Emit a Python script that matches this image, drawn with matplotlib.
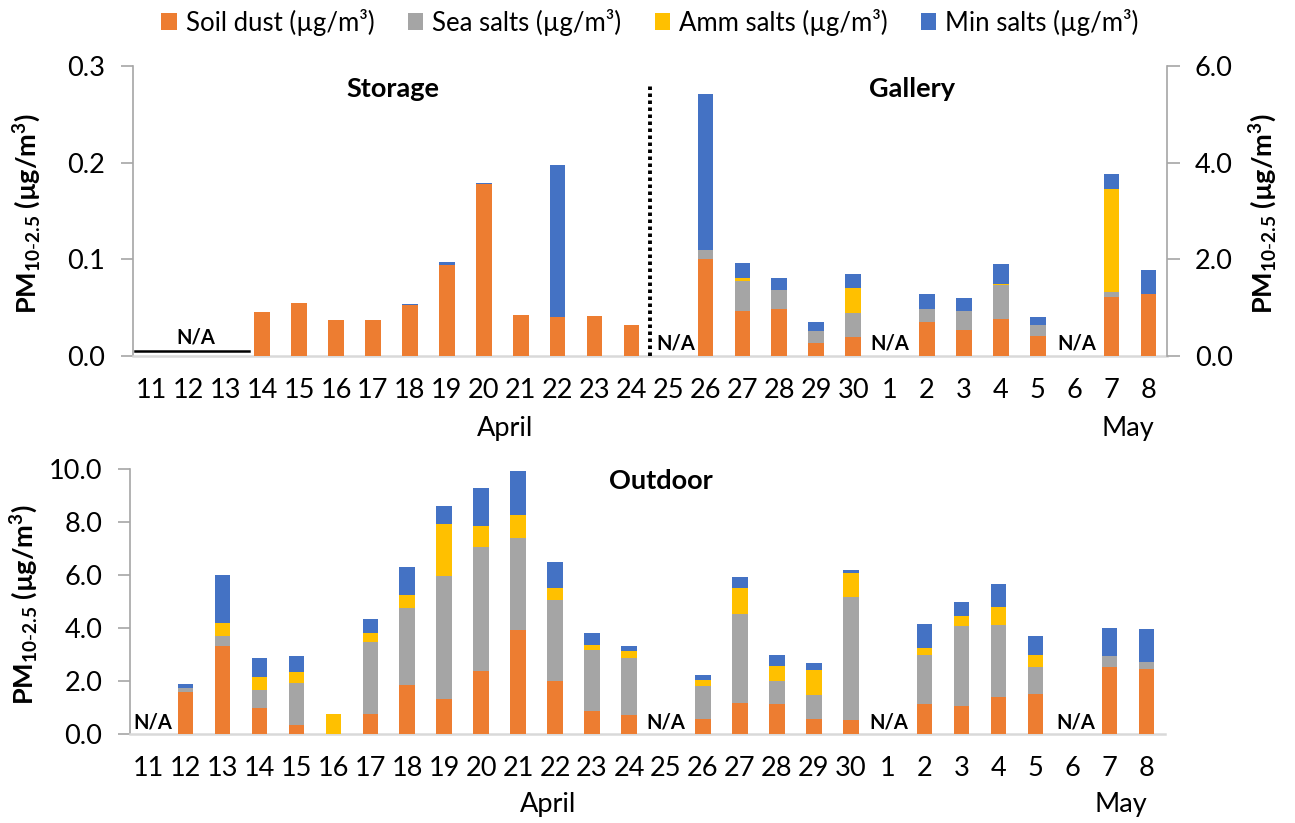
import numpy as np
import matplotlib
matplotlib.use("Agg")
import matplotlib.pyplot as plt
from matplotlib.patches import Patch

plt.rcParams['font.family'] = ['Lato', 'DejaVu Sans']
plt.rcParams['mathtext.fontset'] = 'custom'
plt.rcParams['mathtext.rm'] = 'Lato'
plt.rcParams['mathtext.bf'] = 'Lato:bold'

nan = np.nan

# Sampling days (11 April .. 8 May)
days = ['11', '12', '13', '14', '15', '16', '17', '18', '19', '20', '21', '22', '23', '24',
        '25', '26', '27', '28', '29', '30', '1', '2', '3', '4', '5', '6', '7', '8']

components = ['Soil dust (µg/m³)', 'Sea salts (µg/m³)', 'Amm salts (µg/m³)', 'Min salts (µg/m³)']
colors = ['#ED7D31', '#A5A5A5', '#FFC000', '#4472C4']

# Storage room, 11-24 April (left axis)
storage_soil = [nan, nan, nan, 0.045, 0.055, 0.037, 0.037, 0.053, 0.094, 0.178, 0.0425, 0.040, 0.041, 0.0325]
storage_sea = [nan, nan, nan, 0, 0, 0, 0, 0, 0, 0, 0, 0, 0, 0]
storage_amm = [nan, nan, nan, 0, 0, 0, 0, 0, 0, 0, 0, 0, 0, 0]
storage_min = [nan, nan, nan, 0, 0, 0, 0, 0.001, 0.003, 0.001, 0, 0.158, 0, 0]

# Gallery, 25 April - 8 May (right axis)
gallery_soil = [nan, 2.01, 0.94, 0.97, 0.26, 0.40, nan, 0.70, 0.53, 0.76, 0.41, nan, 1.23, 1.28]
gallery_sea = [nan, 0.19, 0.61, 0.40, 0.26, 0.49, nan, 0.28, 0.41, 0.71, 0.24, nan, 0.10, 0.01]
gallery_amm = [nan, 0.0, 0.07, 0.0, 0.0, 0.51, nan, 0.0, 0.0, 0.01, 0.0, nan, 2.13, 0.0]
gallery_min = [nan, 3.23, 0.30, 0.25, 0.18, 0.30, nan, 0.30, 0.26, 0.42, 0.16, nan, 0.30, 0.49]

# Outdoor, 11 April - 8 May
outdoor_soil = [nan, 1.60, 3.33, 0.98, 0.33, 0.0, 0.74, 1.85, 1.33, 2.39, 3.92, 2.00, 0.88, 0.72,
                nan, 0.57, 1.17, 1.14, 0.58, 0.54, nan, 1.14, 1.07, 1.41, 1.52, nan, 2.54, 2.47]
outdoor_sea = [nan, 0.15, 0.37, 0.67, 1.61, 0.0, 2.73, 2.89, 4.64, 4.68, 3.46, 3.07, 2.28, 2.14,
               nan, 1.24, 3.35, 0.87, 0.90, 4.64, nan, 1.83, 3.02, 2.72, 1.02, nan, 0.39, 0.23]
outdoor_amm = [nan, 0.0, 0.50, 0.49, 0.40, 0.77, 0.33, 0.51, 1.94, 0.78, 0.88, 0.43, 0.19, 0.26,
               nan, 0.24, 0.98, 0.57, 0.95, 0.91, nan, 0.29, 0.36, 0.65, 0.45, nan, 0.0, 0.0]
outdoor_min = [nan, 0.14, 1.80, 0.73, 0.59, 0.0, 0.54, 1.05, 0.69, 1.42, 1.68, 0.99, 0.46, 0.20,
               nan, 0.19, 0.44, 0.41, 0.25, 0.11, nan, 0.90, 0.53, 0.89, 0.72, nan, 1.08, 1.25]

W, H = 1295, 823
fig = plt.figure(figsize=(W / 100, H / 100), dpi=100)

def px_axes(x0, x1, y_top, y_bot):
    return fig.add_axes([x0 / W, 1 - y_bot / H, (x1 - x0) / W, (y_bot - y_top) / H])

bar_w = 0.42
spine_dark = '#A6A6A6'
spine_light = '#D9D9D9'
tick_fs = 19.5
lab_fs = 19.5
title_fs = 19.5
na_fs = 14.5


def stack(ax, xs, series):
    bottom = np.zeros(len(xs))
    for vals, c in zip(series, colors):
        v = np.nan_to_num(np.array(vals, dtype=float))
        ax.bar(xs, v, bar_w, bottom=bottom, color=c, edgecolor='none', zorder=3)
        bottom = bottom + v


def style_axis(ax, ymax, step, fmt):
    ax.set_xlim(-0.5, len(days) - 0.5)
    ax.set_ylim(0, ymax)
    ax.set_yticks(np.arange(0, ymax + step / 2, step))
    ax.yaxis.set_major_formatter(plt.FuncFormatter(lambda v, p: fmt % v))
    ax.set_xticks(np.arange(len(days)))
    ax.set_xticklabels(days)
    ax.tick_params(axis='x', length=0, pad=16, labelsize=tick_fs)
    ax.tick_params(axis='y', length=9, width=1.2, color=spine_dark, labelsize=tick_fs, pad=11)
    for s in ['top', 'right']:
        ax.spines[s].set_visible(False)
    ax.spines['left'].set_color(spine_dark)
    ax.spines['left'].set_linewidth(1.2)
    ax.spines['bottom'].set_color(spine_light)
    ax.spines['bottom'].set_linewidth(1.8)
    ax.set_facecolor('none')


ylab = r'$\mathbf{PM_{10\text{-}2.5}}$ (µg/m$^{\mathbf{3}}$)'

# ---- Top panel: Storage (left) and Gallery (right) ----
ax1 = px_axes(133, 1167, 66, 356)
style_axis(ax1, 0.3, 0.1, '%.1f')
x_all = np.arange(len(days))
stack(ax1, x_all[:14], [storage_soil, storage_sea, storage_amm, storage_min])
ax1.set_ylabel(ylab, fontsize=lab_fs, fontweight='bold')
ax1.yaxis.set_label_coords(-0.087, 0.49)

ax2 = ax1.twinx()
ax2.set_ylim(0, 6.0)
ax2.set_yticks([0, 2, 4, 6])
ax2.yaxis.set_major_formatter(plt.FuncFormatter(lambda v, p: '%.1f' % v))
ax2.tick_params(axis='y', length=9, width=1.2, color=spine_dark, labelsize=tick_fs, pad=11)
for s in ['top', 'left', 'bottom']:
    ax2.spines[s].set_visible(False)
ax2.spines['right'].set_color(spine_dark)
ax2.spines['right'].set_linewidth(1.2)
stack(ax2, x_all[14:], [gallery_soil, gallery_sea, gallery_amm, gallery_min])
ax2.set_ylabel(ylab, fontsize=lab_fs, fontweight='bold')
ax2.yaxis.set_label_coords(1.077, 0.49)

# separator between the two rooms
ax1.plot([13.5, 13.5], [0, 0.282], color='black', linestyle=(0, (0.9, 0.9)), linewidth=2.8, zorder=4)

ax1.text(6.55, 0.276, 'Storage', ha='center', va='center', fontsize=title_fs, fontweight='bold')
ax1.text(20.6, 0.276, 'Gallery', ha='center', va='center', fontsize=title_fs, fontweight='bold')

ax1.plot([-0.45, 2.65], [0.005, 0.005], color='black', linewidth=1.8, zorder=4)
ax1.text(1.2, 0.019, 'N/A', ha='center', va='center', fontsize=na_fs, fontweight='bold')
for xp in [14.2, 20.0, 25.05]:
    ax1.text(xp, 0.0125, 'N/A', ha='center', va='center', fontsize=na_fs, fontweight='bold')

ax1.text(9.57, -0.25, 'April', transform=ax1.get_xaxis_transform(), ha='center', va='center', fontsize=tick_fs)
ax1.text(26.45, -0.25, 'May', transform=ax1.get_xaxis_transform(), ha='center', va='center', fontsize=tick_fs)

# ---- Bottom panel: Outdoor ----
ax3 = px_axes(130, 1165, 469, 734)
style_axis(ax3, 10.0, 2.0, '%.1f')
stack(ax3, x_all, [outdoor_soil, outdoor_sea, outdoor_amm, outdoor_min])
ax3.set_ylabel(ylab, fontsize=lab_fs, fontweight='bold')
ax3.yaxis.set_label_coords(-0.087, 0.49)
ax3.text(13.86, 9.55, 'Outdoor', ha='center', va='center', fontsize=title_fs, fontweight='bold')
for xp in [0.12, 14.0, 20.03, 25.1]:
    ax3.text(xp, 0.42, 'N/A', ha='center', va='center', fontsize=na_fs, fontweight='bold')
ax3.text(10.8, -0.265, 'April', transform=ax3.get_xaxis_transform(), ha='center', va='center', fontsize=tick_fs)
ax3.text(26.3, -0.265, 'May', transform=ax3.get_xaxis_transform(), ha='center', va='center', fontsize=tick_fs)

# ---- Legend ----
handles = [Patch(facecolor=c, edgecolor='none') for c in colors]
fig.legend(handles, components, loc='center', bbox_to_anchor=(650 / W, 1 - 22 / H), ncol=4,
           frameon=False, fontsize=18.5, handlelength=0.6, handleheight=0.6,
           handletextpad=0.35, columnspacing=1.3)

fig.savefig('out.png', dpi=100)
